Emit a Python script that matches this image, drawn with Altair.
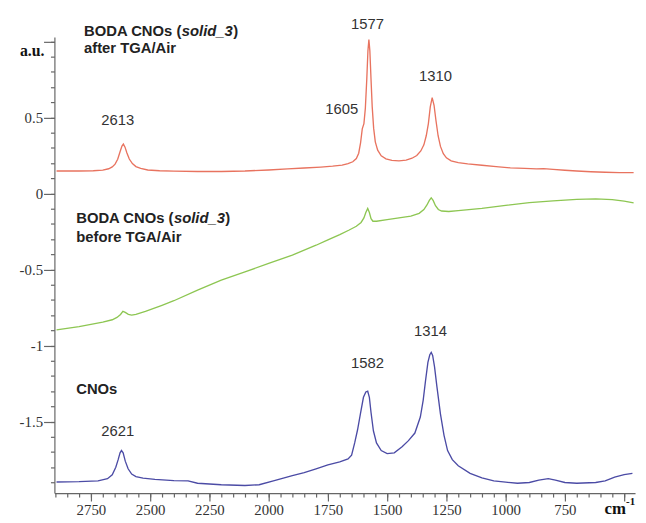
import altair as alt
import pandas as pd

# ---------------- data ----------------
series_names = ["after TGA/Air", "before TGA/Air", "CNOs"]
series_colors = ["#E8735F", "#8DC652", "#4B4BA5"]

red_wn = [2895, 2800, 2740, 2700, 2675, 2660, 2648, 2637, 2627, 2619, 2613, 2606, 2598,
          2588, 2575, 2560, 2540, 2510, 2460, 2400, 2300, 2200, 2100, 2000, 1920, 1850,
          1780, 1730, 1690, 1665, 1645, 1630, 1620, 1612, 1605, 1598, 1592, 1586, 1581,
          1577, 1573, 1568, 1563, 1557, 1550, 1540, 1525, 1505, 1480, 1450, 1420, 1395,
          1375, 1358, 1345, 1335, 1326, 1318, 1310, 1302, 1294, 1285, 1275, 1263, 1250,
          1230, 1200, 1160, 1100, 1040, 980, 920, 870, 840, 800, 750, 700, 640, 580, 520, 460]
red_val = [0.148, 0.148, 0.150, 0.154, 0.163, 0.175, 0.193, 0.225, 0.275, 0.312, 0.325,
           0.305, 0.267, 0.227, 0.197, 0.177, 0.165, 0.155, 0.150, 0.147, 0.145, 0.145,
           0.148, 0.155, 0.162, 0.168, 0.174, 0.180, 0.187, 0.196, 0.209, 0.230, 0.265,
           0.335, 0.425, 0.46, 0.56, 0.75, 0.94, 1.013, 0.94, 0.75, 0.57, 0.43, 0.34,
           0.285, 0.248, 0.228, 0.218, 0.215, 0.22, 0.232, 0.25, 0.28, 0.32, 0.38, 0.46,
           0.57, 0.63, 0.58, 0.48, 0.38, 0.31, 0.262, 0.235, 0.215, 0.203, 0.195, 0.186,
           0.177, 0.169, 0.165, 0.162, 0.164, 0.159, 0.153, 0.148, 0.143, 0.140, 0.138, 0.137]

green_wn = [2895, 2800, 2700, 2660, 2640, 2625, 2615, 2605, 2592, 2578, 2560, 2520, 2450,
            2400, 2300, 2200, 2100, 2000, 1900, 1800, 1750, 1700, 1660, 1630, 1610, 1598,
            1590, 1582, 1575, 1568, 1560, 1545, 1500, 1450, 1400, 1365, 1345, 1332, 1322,
            1314, 1306, 1296, 1284, 1270, 1240, 1200, 1100, 1000, 900, 800, 700, 620, 550,
            500, 460]
green_val = [-0.896, -0.875, -0.845, -0.830, -0.815, -0.795, -0.775, -0.782, -0.795, -0.800,
             -0.795, -0.775, -0.735, -0.705, -0.635, -0.570, -0.515, -0.460, -0.405, -0.340,
             -0.305, -0.270, -0.240, -0.215, -0.190, -0.160, -0.125, -0.098, -0.125, -0.165,
             -0.182, -0.182, -0.172, -0.160, -0.148, -0.130, -0.105, -0.075, -0.045, -0.028,
             -0.045, -0.080, -0.105, -0.115, -0.118, -0.112, -0.098, -0.078, -0.060, -0.048,
             -0.038, -0.035, -0.040, -0.050, -0.062]

blue_wn = [2895, 2800, 2720, 2680, 2660, 2645, 2635, 2627, 2621, 2614, 2605, 2593, 2578,
           2560, 2530, 2480, 2400, 2340, 2300, 2200, 2100, 2040, 1980, 1900, 1850, 1800,
           1750, 1700, 1665, 1650, 1637, 1625, 1613, 1600, 1590, 1582, 1575, 1568, 1558,
           1545, 1525, 1500, 1470, 1437, 1410, 1383, 1360, 1348, 1338, 1328, 1320, 1314,
           1308, 1300, 1290, 1275, 1260, 1245, 1225, 1200, 1150, 1100, 1050, 1000, 950,
           900, 860, 820, 790, 750, 700, 620, 580, 540, 500, 465]
blue_val = [-1.897, -1.895, -1.890, -1.875, -1.850, -1.800, -1.750, -1.705, -1.690, -1.705,
            -1.760, -1.810, -1.845, -1.862, -1.872, -1.880, -1.888, -1.890, -1.905, -1.915,
            -1.920, -1.915, -1.890, -1.855, -1.835, -1.810, -1.785, -1.765, -1.745, -1.720,
            -1.640, -1.555, -1.450, -1.340, -1.305, -1.300, -1.340, -1.440, -1.560, -1.640,
            -1.690, -1.710, -1.705, -1.665, -1.625, -1.575, -1.470, -1.360, -1.230, -1.110,
            -1.060, -1.045, -1.065, -1.140, -1.270, -1.450, -1.590, -1.690, -1.750, -1.790,
            -1.840, -1.870, -1.890, -1.898, -1.905, -1.900, -1.885, -1.875, -1.885, -1.900,
            -1.905, -1.900, -1.890, -1.865, -1.848, -1.840]

peak_text = ["2613", "1577", "1605", "1310", "2621", "1582", "1314"]
peak_wn = [2637, 1583, 1692, 1296, 2637, 1583, 1317]
peak_val = [0.48, 1.117, 0.558, 0.773, -1.565, -1.117, -0.903]

title_wn = [2779, 2812]
title_val = [1.071, -0.162]
sub_text = ["after TGA/Air", "before TGA/Air", "CNOs"]
sub_wn = [2779, 2812, 2812]
sub_val = [0.955, -0.286, -1.286]

unit_text = ["cm"]
unit_wn = [583]
unit_val = [-2.078]
sup_text = ["-1"]
sup_wn = [492]
sup_val = [-2.030]

x_major = [2750, 2500, 2250, 2000, 1750, 1500, 1250, 1000, 750, 500]
x_minor = list(range(2900, 450, -50))
y_major = [-1.5, -1, -0.5, 0, 0.5, 1]
y_minor = [round(-1.9 + 0.1 * i, 1) for i in range(30)]

# ---------------- tables ----------------
frames = []
for name, wn, val in [(series_names[0], red_wn, red_val),
                      (series_names[1], green_wn, green_val),
                      (series_names[2], blue_wn, blue_val)]:
    frames.append(pd.DataFrame({"series": name, "wn": wn, "val": val,
                                "order": list(range(len(wn)))}))
df = pd.concat(frames, ignore_index=True)

peaks = pd.DataFrame({"text": peak_text, "wn": peak_wn, "val": peak_val})
titles = pd.DataFrame({"wn": title_wn, "val": title_val})
subs = pd.DataFrame({"text": sub_text, "wn": sub_wn, "val": sub_val})
unit_main = pd.DataFrame({"text": unit_text, "wn": unit_wn, "val": unit_val})
unit_sup = pd.DataFrame({"text": sup_text, "wn": sup_wn, "val": sup_val})

x_scale = alt.Scale(domain=[2904, 454], nice=False, zero=False)
y_scale = alt.Scale(domain=[-1.97, 1.03], nice=False, zero=False)

lines = alt.Chart(df).mark_line(strokeWidth=1.35).encode(
    x=alt.X("wn:Q", scale=x_scale,
            axis=alt.Axis(values=x_major, orient="bottom", tickSize=8, title=None,
                          labelExpr="datum.value == 500 ? '' : toString(datum.value)",
                          labelPadding=2)),
    y=alt.Y("val:Q", scale=y_scale,
            axis=alt.Axis(values=y_major, orient="left", tickSize=11,
                          labelExpr="datum.value == 1 ? '' : toString(datum.value)",
                          labelPadding=1, title="a.u.", titleAngle=0, titleX=-23,
                          titleY=14, titleAlign="center", titleBaseline="middle",
                          titleFont="Liberation Serif", titleFontWeight="bold",
                          titleFontSize=16, titleColor="#111")),
    color=alt.Color("series:N", scale=alt.Scale(domain=series_names, range=series_colors),
                    legend=None),
    order="order:Q",
)

minor = alt.Chart(df).mark_line(opacity=0).encode(
    x=alt.X("wn:Q", scale=x_scale,
            axis=alt.Axis(values=x_minor, orient="bottom", tickSize=4, labels=False,
                          domain=False, title=None)),
    y=alt.Y("val:Q", scale=y_scale,
            axis=alt.Axis(values=y_minor, orient="left", tickSize=4, labels=False,
                          domain=False, title=None)),
    detail="series:N",
)


def txt(data, **kw):
    return alt.Chart(data).mark_text(**kw).encode(
        x=alt.X("wn:Q", scale=x_scale, axis=None),
        y=alt.Y("val:Q", scale=y_scale, axis=None),
    )


def txt_field(data, **kw):
    return alt.Chart(data).mark_text(**kw).encode(
        x=alt.X("wn:Q", scale=x_scale, axis=None),
        y=alt.Y("val:Q", scale=y_scale, axis=None),
        text="text:N",
    )


peak_layer = txt_field(peaks, font="Liberation Sans", fontSize=15, color="#333",
                       align="center", baseline="middle")
sub_layer = txt_field(subs, font="Liberation Sans", fontSize=15, fontWeight="bold",
                      color="#222", align="left", baseline="middle")

t1 = txt(titles, text="BODA CNOs (", font="Liberation Sans", fontSize=15,
         fontWeight="bold", color="#222", align="left", baseline="middle")
t2 = txt(titles, text="solid_3", font="Liberation Sans", fontSize=15, fontWeight="bold",
         fontStyle="italic", color="#222", align="left", baseline="middle", dx=99)
t3 = txt(titles, text=")", font="Liberation Sans", fontSize=15, fontWeight="bold",
         color="#222", align="left", baseline="middle", dx=151)

u1 = txt_field(unit_main, font="Liberation Serif", fontSize=17, fontWeight="bold",
               color="#111", align="left", baseline="middle")
u2 = txt_field(unit_sup, font="Liberation Serif", fontSize=11, fontWeight="bold",
               color="#111", align="left", baseline="middle")

chart = alt.layer(lines, minor, peak_layer, sub_layer, t1, t2, t3, u1, u2).resolve_scale(
    x="shared", y="shared"
).resolve_axis(
    x="independent", y="independent"
).properties(
    width=588, height=462, autosize="none",
    padding={"left": 47, "top": 26, "right": 3, "bottom": 27},
).configure_view(stroke=None).configure_axis(
    grid=False, domainColor="#666", tickColor="#666", domainWidth=1.2, tickWidth=1.2,
    labelColor="#333", labelFont="Liberation Serif", labelFontSize=15,
)

chart.save("out.html", embed_options={"renderer": "svg", "actions": False})
